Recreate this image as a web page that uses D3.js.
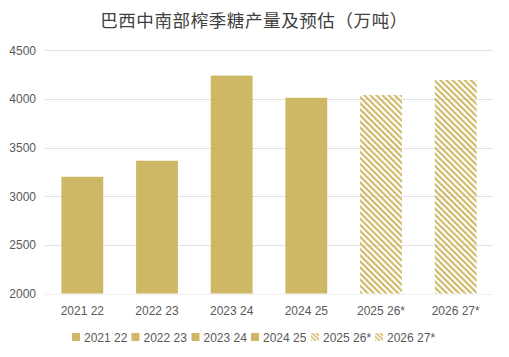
<!DOCTYPE html>
<html><head><meta charset="utf-8">
<script src="https://cdn.jsdelivr.net/npm/d3@7"></script>
<style>
html,body{margin:0;padding:0;background:#fff;}
svg{display:block;}
</style></head>
<body>
<script>
const title = "巴西中南部榨季糖产量及预估（万吨）";
const categories = ["2021 22","2022 23","2023 24","2024 25","2025 26*","2026 27*"];
const values = [3200, 3365, 4240, 4012, 4040, 4195];
const projected = [false, false, false, false, true, true];
const yTicks = [2000, 2500, 3000, 3500, 4000, 4500];

const W = 509, H = 357;
const gold = "#CEB865";
const margin = {left: 45, right: 16, top: 50, bottom: 64};

const svg = d3.select("body").append("svg").attr("width", W).attr("height", H);

const defs = svg.append("defs");
const pat = defs.append("pattern").attr("id","hatch")
  .attr("patternUnits","userSpaceOnUse").attr("width",4.3).attr("height",4.3)
  .attr("patternTransform","rotate(-45)");
pat.append("rect").attr("x",0).attr("y",0).attr("width",2.1).attr("height",4.3).attr("fill",gold);
const pat2 = defs.append("pattern").attr("id","hatchSmall")
  .attr("patternUnits","userSpaceOnUse").attr("width",3).attr("height",3)
  .attr("patternTransform","rotate(-45)");
pat2.append("rect").attr("x",0).attr("y",0).attr("width",1.5).attr("height",3).attr("fill",gold);

const x = d3.scaleBand().domain(categories).range([margin.left, 493]).paddingInner(0.44).paddingOuter(0.22);
const y = d3.scaleLinear().domain([2000, 4500]).range([293.5, 50.3]);

svg.append("text").attr("x", 254).attr("y", 27).attr("text-anchor","middle")
  .attr("font-family","'Noto Sans CJK SC', sans-serif").attr("font-size", 17.5)
  .attr("fill","#404040").attr("letter-spacing", 0.6).text(title);

// gridlines
svg.append("g").selectAll("line").data(yTicks).join("line")
  .attr("x1", margin.left).attr("x2", 493)
  .attr("y1", d => Math.round(y(d)) + 0.5).attr("y2", d => Math.round(y(d)) + 0.5)
  .attr("stroke", d => d === 2000 ? "#f0f0f0" : "#e3e3e3").attr("stroke-width", 1);

// y axis labels
const yAxis = d3.axisLeft(y).tickValues(yTicks).tickSize(0).tickPadding(0).tickFormat(d3.format("d"));
const gy = svg.append("g").attr("transform", `translate(36,0)`).call(yAxis);
gy.select(".domain").remove();
gy.selectAll("text").attr("font-family","'Liberation Sans', Arial, sans-serif")
  .attr("font-size", 12).attr("fill","#595959");

// bars
svg.append("g").selectAll("rect").data(categories).join("rect")
  .attr("x", d => x(d)).attr("width", x.bandwidth())
  .attr("y", (d,i) => y(values[i])).attr("height", (d,i) => y(2000) - y(values[i]))
  .attr("fill", (d,i) => projected[i] ? "url(#hatch)" : gold);

// x axis labels
const xAxis = d3.axisBottom(x).tickSize(0).tickPadding(0);
const gx = svg.append("g").attr("transform", `translate(0,${306})`).call(xAxis);
gx.select(".domain").remove();
gx.selectAll("text").attr("font-family","'Liberation Sans', Arial, sans-serif")
  .attr("font-size", 12).attr("fill","#595959");

// legend
const legendX = [72, 131.5, 191.5, 251, 311, 375];
const lg = svg.append("g").selectAll("g").data(categories).join("g")
  .attr("transform", (d,i) => `translate(${legendX[i]},333)`);
lg.append("rect").attr("x",0).attr("y",0).attr("width",8).attr("height",8)
  .attr("fill", (d,i) => projected[i] ? "url(#hatchSmall)" : gold);
lg.append("text").attr("x", 12).attr("y", 8.5)
  .attr("font-family","'Liberation Sans', Arial, sans-serif")
  .attr("font-size", 12).attr("fill","#595959").text(d => d);
</script>
</body></html>
